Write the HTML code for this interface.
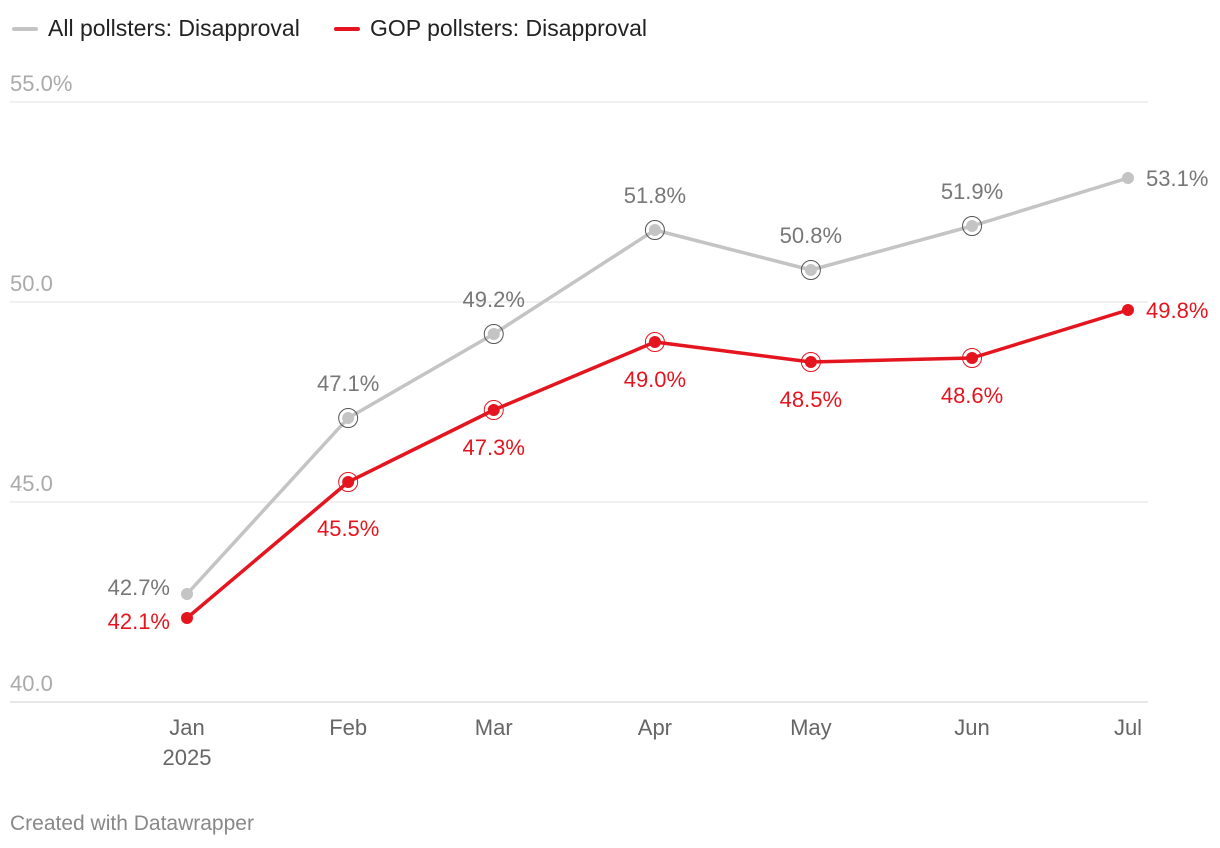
<!DOCTYPE html>
<html><head><meta charset="utf-8"><style>
body{margin:0;background:#fff;font-family:"Liberation Sans",sans-serif;}
#wrap{position:relative;width:1220px;height:848px;overflow:hidden}
.leg{position:absolute;top:15px;font-size:23px;color:#222;display:flex;align-items:center}
.leg i{display:inline-block;width:26px;height:4px;border-radius:2px;margin-right:10px}
.credit{position:absolute;left:10px;top:812px;font-size:21px;color:#888}
</style></head><body>
<div id="wrap">
<div class="leg" style="left:12px"><i style="background:#c4c4c4"></i>All pollsters: Disapproval</div>
<div class="leg" style="left:334px"><i style="background:#e4151f"></i>GOP pollsters: Disapproval</div>
<svg id="svg" width="1220" height="848" style="position:absolute;left:0;top:0"></svg>
<div class="credit">Created with Datawrapper</div>
</div>
<script>
const months = ["Jan","Feb","Mar","Apr","May","Jun","Jul"];
const monthDays = [0,31,59,90,120,151,181];
const allValues = [42.7,47.1,49.2,51.8,50.8,51.9,53.1];
const gopValues = [42.1,45.5,47.3,49.0,48.5,48.6,49.8];
const yTicks = [40,45,50,55];
const yTickLabels = ["40.0","45.0","50.0","55.0%"];
const ringed = [false,true,true,true,true,true,false];

const svg = document.getElementById('svg');
const NS = 'http://www.w3.org/2000/svg';
const x = d => 187 + (d/181)*(1128-187);
const y = v => 702 - (v-40)*40;
function mk(tag, attrs, parent){const e=document.createElementNS(NS,tag);for(const k in attrs)e.setAttribute(k,attrs[k]);(parent||svg).appendChild(e);return e;}

yTicks.forEach((t,i)=>{
  const g = mk('line',{x1:10,x2:1148,y1:y(t),y2:y(t),stroke:t===40?'#d0d0d0':'#e2e2e2','stroke-width':1});
  
  
  const tx = mk('text',{x:10,y:y(t)-11,'font-size':22,fill:'#aaaaaa'});
  tx.textContent = yTickLabels[i];
  
  
});
months.forEach((m,i)=>{
  const tx = mk('text',{x:x(monthDays[i]),y:735,'font-size':22,fill:'#666','text-anchor':'middle'});
  tx.textContent = m;
  
  
});
const yr = mk('text',{x:x(0),y:765,'font-size':22,fill:'#666','text-anchor':'middle'});
yr.textContent='2025';



function series(vals,color,labColor,name,above){
  const p = mk('polyline',{points:vals.map((v,i)=>x(monthDays[i])+','+y(v)).join(' '),fill:'none',stroke:color,'stroke-width':3.5,'stroke-linejoin':'round'});
  
  
  vals.forEach((v,i)=>{
    const cx=x(monthDays[i]), cy=y(v);
    if(ringed[i]){
      const r = mk('circle',{cx,cy,r:9.5,fill:'none',stroke:above?'#555':color,'stroke-width':1});
      
      
    }
    const c = mk('circle',{cx,cy,r:6,fill:color});
    
    
    let lx=cx, ly=above?cy-27:cy+(i===1?54:45), anchor='middle';
    if(i===0){lx=cx-17; ly=above?cy+1:cy+11; anchor='end';}
    if(i===vals.length-1){lx=cx+18; ly=cy+8; anchor='start';}
    const t = mk('text',{x:lx,y:ly,'font-size':22,fill:labColor,'text-anchor':anchor});
    t.textContent = v.toFixed(1)+'%';
    
    
  });
}
series(allValues,'#c4c4c4','#777','all-pollsters',true);
series(gopValues,'#e4151f','#e4151f','gop-pollsters',false);
</script>
</body></html>
